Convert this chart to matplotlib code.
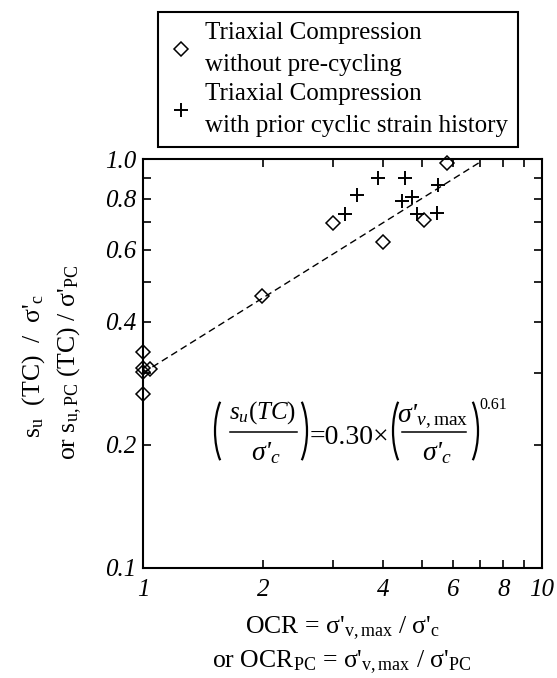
import matplotlib
matplotlib.use('Agg')
import matplotlib.pyplot as plt
from matplotlib.lines import Line2D
from matplotlib.patches import Arc
from matplotlib.ticker import NullLocator
from matplotlib.font_manager import FontProperties
import numpy as np

plt.rcParams['font.family'] = ['Liberation Serif', 'DejaVu Serif']
plt.rcParams['mathtext.fontset'] = 'custom'
plt.rcParams['mathtext.rm'] = 'Liberation Serif'
plt.rcParams['mathtext.it'] = 'Liberation Serif:italic'
plt.rcParams['mathtext.bf'] = 'Liberation Serif:bold'

# ---- data ----
dia_x = [1.0, 1.0, 1.0, 1.04, 1.0, 1.99, 2.99, 3.99, 5.06, 5.77]
dia_y = [0.338, 0.308, 0.302, 0.306, 0.266, 0.463, 0.699, 0.628, 0.709, 0.976]

plus_x = [3.21, 3.43, 3.89, 4.54, 4.45, 4.71, 4.87, 5.47, 5.50]
plus_y = [0.733, 0.817, 0.897, 0.897, 0.791, 0.809, 0.733, 0.739, 0.864]

fit_coef = 0.30
fit_exp = 0.61
fit_x = np.array([1.0, 7.0])
fit_y = fit_coef * fit_x ** fit_exp

x_ticks = [1, 2, 3, 4, 5, 6, 7, 8, 9, 10]
x_tick_labels = ['1', '2', '', '4', '', '6', '', '8', '', '10']
y_ticks = [0.1, 0.2, 0.3, 0.4, 0.5, 0.6, 0.7, 0.8, 0.9, 1.0]
y_tick_labels = ['0.1', '0.2', '', '0.4', '', '0.6', '', '0.8', '', '1.0']

label_dia = "Triaxial Compression\nwithout pre-cycling"
label_plus = "Triaxial Compression\nwith prior cyclic strain history"

xl1 = r"OCR = σ'$_\mathrm{v,max}$ / σ'$_\mathrm{c}$"
xl2 = r"or OCR$_\mathrm{PC}$ = σ'$_\mathrm{v,max}$ / σ'$_\mathrm{PC}$"
yl1 = r"s$_\mathrm{u}$  (TC)  /  σ'$_\mathrm{c}$"
yl2 = r"or s$_\mathrm{u,PC}$ (TC) / σ'$_\mathrm{PC}$"

eq_num1 = r"$s_u(TC)$"
eq_den1 = r"$\sigma$'$_c$"
eq_mid = "=0.30×"
eq_num2 = r"$\sigma$'$_{v,\mathrm{max}}$"
eq_den2 = r"$\sigma$'$_c$"
eq_exp = "0.61"

# ---- figure ----
W, H = 557, 678
fig = plt.figure(figsize=(W / 100, H / 100), dpi=100)
ax = fig.add_axes([143 / W, 1 - 568 / H, (542 - 143) / W, (568 - 159) / H])
ax.set_xscale('log')
ax.set_yscale('log')
ax.set_xlim(1, 10)
ax.set_ylim(0.1, 1.0)

ax.plot(fit_x, fit_y, color='black', lw=1.0, ls=(0, (5, 3)))
ax.plot(dia_x, dia_y, ls='none', marker='D', ms=7.5, mfc='none', mec='black',
        mew=1.1, clip_on=False, zorder=3)
ax.plot(plus_x, plus_y, ls='none', marker='+', ms=10, mec='black', mew=1.4,
        clip_on=False, zorder=3)

tick_fp = FontProperties(family='Liberation Serif', style='italic', size=18)
ax.set_xticks(x_ticks)
ax.set_xticklabels(x_tick_labels)
ax.set_yticks(y_ticks)
ax.set_yticklabels(y_tick_labels)
ax.xaxis.set_minor_locator(NullLocator())
ax.yaxis.set_minor_locator(NullLocator())
for lbl in ax.get_xticklabels() + ax.get_yticklabels():
    lbl.set_fontproperties(tick_fp)
ax.tick_params(which='both', direction='in', top=True, right=True,
               length=6, width=1.2)
ax.tick_params(axis='x', pad=8)
ax.tick_params(axis='y', pad=5)
for s in ax.spines.values():
    s.set_linewidth(1.5)

# axis labels
fig.text(342 / W, 1 - 633 / H, xl1, ha='center', va='baseline', fontsize=18.5)
fig.text(342 / W, 1 - 667 / H, xl2, ha='center', va='baseline', fontsize=18.5)
fig.text(40 / W, 1 - 366 / H, yl1, rotation=90, rotation_mode='anchor',
         ha='center', va='baseline', fontsize=18.5)
fig.text(75 / W, 1 - 362 / H, yl2, rotation=90, rotation_mode='anchor',
         ha='center', va='baseline', fontsize=18.5)

# equation (overlay in pixel coordinates)
ov = fig.add_axes([0, 0, 1, 1], zorder=5)
ov.set_xlim(0, W)
ov.set_ylim(H, 0)
ov.axis('off')
ov.patch.set_alpha(0)


def paren(x_outer, x_inner, ytop, ybot, left=True, theta=62):
    half = (ybot - ytop) / 2.0
    yc = (ytop + ybot) / 2.0
    b = half / np.sin(np.radians(theta))
    a = abs(x_inner - x_outer) / (1 - np.cos(np.radians(theta)))
    if left:
        cx = x_outer + a
        t1, t2 = 180 - theta, 180 + theta
    else:
        cx = x_outer - a
        t1, t2 = -theta, theta
    ov.add_patch(Arc((cx, yc), 2 * a, 2 * b, theta1=t1, theta2=t2,
                     lw=1.6, color='black'))


paren(215, 226, 392, 470, left=True)
paren(307, 296, 392, 470, left=False)
paren(393, 404, 392, 470, left=True)
paren(478, 467, 392, 470, left=False)
ov.plot([230, 297], [432, 432], color='black', lw=1.1)
ov.plot([402, 466], [432, 432], color='black', lw=1.1)
ov.text(263, 419, eq_num1, ha='center', va='baseline', fontsize=18)
ov.text(266, 460, eq_den1, ha='center', va='baseline', fontsize=20,
        fontstyle='italic')
ov.text(310, 444, eq_mid, ha='left', va='baseline', fontsize=20)
ov.text(433, 422, eq_num2, ha='center', va='baseline', fontsize=20,
        fontstyle='italic')
ov.text(437, 460, eq_den2, ha='center', va='baseline', fontsize=20,
        fontstyle='italic')
ov.text(479, 409, eq_exp, ha='left', va='baseline', fontsize=11.5)

# legend
handles = [
    Line2D([], [], ls='none', marker='D', ms=7, mfc='none', mec='black', mew=1.1),
    Line2D([], [], ls='none', marker='+', ms=10, mec='black', mew=1.4),
]
leg = fig.legend(handles, [label_dia, label_plus], loc='upper left',
                 bbox_to_anchor=(158 / W, 1 - 12 / H), borderaxespad=0,
                 frameon=True, fancybox=False, edgecolor='black', framealpha=1,
                 fontsize=18, handlelength=1.0, handletextpad=0.45,
                 borderpad=0.42, labelspacing=0.3)
for t in leg.get_texts():
    t.set_linespacing(1.55)
leg.get_frame().set_linewidth(1.5)

fig.savefig('out.png', dpi=100)
